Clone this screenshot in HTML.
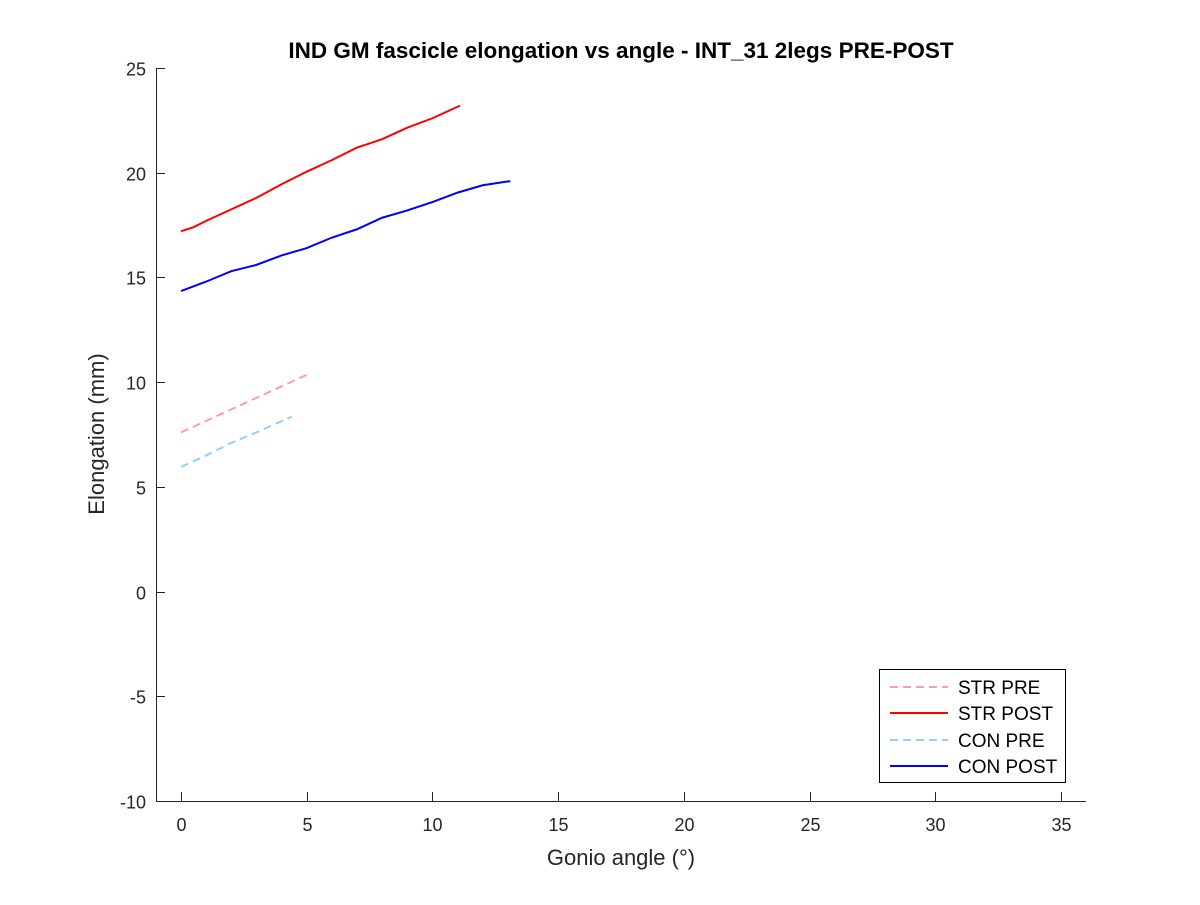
<!DOCTYPE html>
<html><head><meta charset="utf-8"><style>
body{margin:0;background:#fff;}
svg{font-family:"Liberation Sans",Arial,sans-serif;}
</style></head><body>
<svg id="chart" width="1200" height="900" xmlns="http://www.w3.org/2000/svg">
<rect width="1200" height="900" fill="#fff"/>
<text x="621" y="58" text-anchor="middle" font-size="22.5" font-weight="bold" fill="#000">IND GM fascicle elongation vs angle - INT_31 2legs PRE-POST</text>
<text x="621" y="865" text-anchor="middle" font-size="22" fill="#262626">Gonio angle (°)</text>
<text transform="translate(104,434) rotate(-90)" text-anchor="middle" font-size="22" fill="#262626">Elongation (mm)</text>
<g id="axes"></g>
<g id="series"></g>
<g>
<rect x="879.5" y="669.5" width="186" height="113" fill="#fff" stroke="#000" stroke-width="1"/>
<line x1="890" y1="687" x2="948" y2="687" stroke="#ff99bb" stroke-width="2" stroke-dasharray="8,5"/>
<text x="958" y="694" font-size="19" fill="#000">STR PRE</text>
<line x1="890" y1="713" x2="948" y2="713" stroke="#ff0000" stroke-width="2"/>
<text x="958" y="720" font-size="19" fill="#000">STR POST</text>
<line x1="890" y1="740" x2="948" y2="740" stroke="#99ccff" stroke-width="2" stroke-dasharray="8,5"/>
<text x="958" y="747" font-size="19" fill="#000">CON PRE</text>
<line x1="890" y1="766" x2="948" y2="766" stroke="#0000ff" stroke-width="2"/>
<text x="958" y="773" font-size="19" fill="#000">CON POST</text>
</g>
</svg>
<script>
const xTicks=[0,5,10,15,20,25,30,35];
const yTicks=[-10,-5,0,5,10,15,20,25];
const strPreX=[0,1,2,3,4,5];
const strPreY=[7.6,8.15,8.7,9.25,9.8,10.35];
const strPostX=[0,0.5,1,2,3,4,5,6,7,7.5,8,9,10,11,11.1];
const strPostY=[17.2,17.4,17.7,18.25,18.8,19.45,20.05,20.6,21.2,21.4,21.6,22.15,22.6,23.15,23.2];
const conPreX=[0,1,2,3,4.4];
const conPreY=[5.95,6.5,7.1,7.6,8.35];
const conPostX=[0,1,2,3,4,5,6,7,8,9,10,11,12,13.1];
const conPostY=[14.35,14.8,15.3,15.6,16.05,16.4,16.9,17.3,17.85,18.2,18.6,19.05,19.4,19.6];
const NS="http://www.w3.org/2000/svg";
const xs=v=>181+v*(1061-181)/35;
const ys=v=>801-(v+10)*(801-68)/35;
const ax=document.getElementById('axes');
function mk(t,a,p){const e=document.createElementNS(NS,t);for(const k in a)e.setAttribute(k,a[k]);p.appendChild(e);return e;}
const L=156,R=1086,T=68,B=801;
let l=mk('line',{x1:L,y1:B+0.5,x2:R,y2:B+0.5,stroke:'#262626','stroke-width':1},ax);


l=mk('line',{x1:L+0.5,y1:T,x2:L+0.5,y2:B,stroke:'#262626','stroke-width':1},ax);


xTicks.forEach(v=>{const x=Math.round(xs(v))+0.5;
mk('line',{x1:x,y1:B,x2:x,y2:B-9,stroke:'#262626'},ax);
const t=mk('text',{x:x,y:B+30,'text-anchor':'middle','font-size':18,fill:'#262626'},ax);t.textContent=v;

});
yTicks.forEach(v=>{const y=Math.round(ys(v))+0.5;
mk('line',{x1:L,y1:y,x2:L+9,y2:y,stroke:'#262626'},ax);
const t=mk('text',{x:L-10,y:y+7,'text-anchor':'end','font-size':18,fill:'#262626'},ax);t.textContent=v;

});
const sg=document.getElementById('series');
function line(X,Y,c,d,n){const p=mk('polyline',{points:X.map((x,i)=>xs(x)+','+ys(Y[i])).join(' '),fill:'none',stroke:c,'stroke-width':2,'stroke-dasharray':d||'none'},sg);

}
line(strPreX,strPreY,'#ff99bb','8,5','line-str-pre');
line(strPostX,strPostY,'#ff0000',null,'line-str-post');
line(conPreX,conPreY,'#99ccff','8,5','line-con-pre');
line(conPostX,conPostY,'#0000ff',null,'line-con-post');
</script>
</body></html>
